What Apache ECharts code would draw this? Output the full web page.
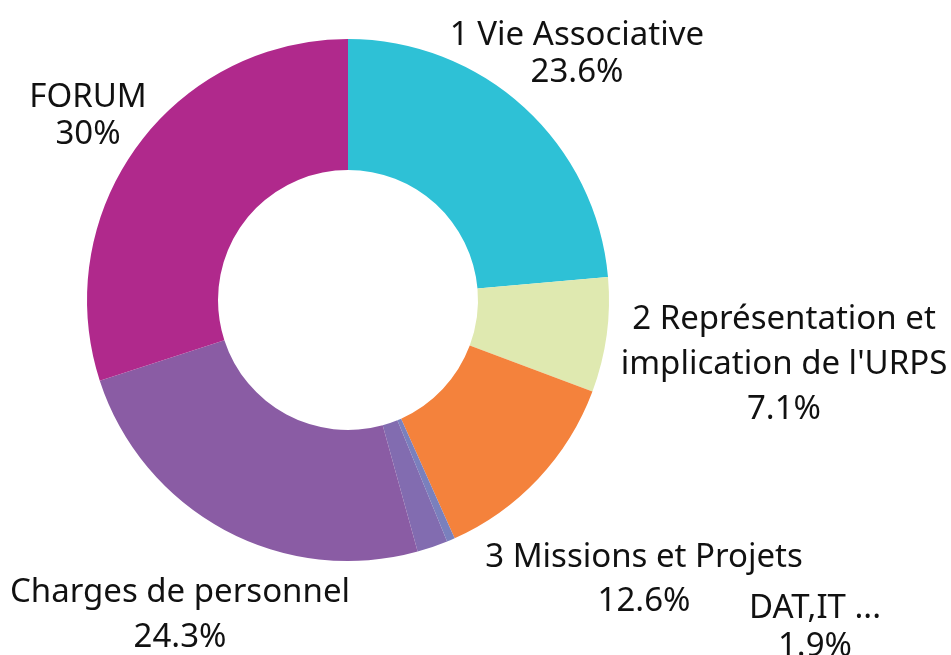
<!DOCTYPE html>
<html lang="fr">
<head>
    <meta charset="UTF-8">
    <title>Budget</title>
    <script src="https://cdn.jsdelivr.net/npm/echarts@6/dist/echarts.min.js"></script>
    <style>
        html, body { margin: 0; padding: 0; background: #fff; }
        #pieChart { width: 951px; height: 655px; }
    </style>
</head>
<body>
    <div id="pieChart"></div>
    <script>
        // donnees (en %)
        var categories = ['1 Vie Associative', "2 Représentation et\nimplication de l'URPS", '3 Missions et Projets', 'Autres', 'DAT,IT ...', 'Charges de personnel', 'FORUM'];
        var values = [23.6, 7.1, 12.6, 0.5, 1.9, 24.3, 30];
        var colors = ['#2ec1d6', '#dfe9b0', '#f4823c', '#7a80bd', '#826cb0', '#8a5ca4', '#b0298c'];
        var showLabel = [true, true, true, false, true, true, true];

        // haut-centre de chaque etiquette + hauteurs de ligne (nom / pourcentage)
        var labelPos = [[577, 18], [784, 297], [644, 540], null, [815, 591], [180, 575], [88, 80]];
        var nameLine = [36, 45, 36, 36, 36, 36, 36];
        var pctLine = [38, 45, 51, 38, 40, 54, 38];

        var data = categories.map(function (name, i) {
            return {
                name: name,
                value: values[i],
                itemStyle: { color: colors[i] },
                label: {
                    show: showLabel[i],
                    rich: {
                        n: { fontSize: 33, lineHeight: nameLine[i], color: '#111', fontFamily: 'Noto Sans' },
                        p: { fontSize: 33, lineHeight: pctLine[i], color: '#111', fontFamily: 'Noto Sans' }
                    }
                }
            };
        });

        var chart = echarts.init(document.getElementById('pieChart'));
        var option = {
            animation: false,
            series: [{
                type: 'pie',
                center: [348, 300],
                radius: [130, 261],
                startAngle: 90,
                clockwise: true,
                percentPrecision: 1,
                avoidLabelOverlap: false,
                label: {
                    position: 'outside',
                    formatter: '{n|{b}}\n{p|{d}%}',
                    color: '#111',
                    fontFamily: 'Noto Sans',
                    fontSize: 33,
                    align: 'center'
                },
                labelLine: { show: false },
                labelLayout: function (params) {
                    var p = labelPos[params.dataIndex];
                    if (!p) return {};
                    return { x: p[0], y: p[1], align: 'center', verticalAlign: 'top' };
                },
                emphasis: { disabled: true },
                data: data
            }]
        };
        chart.setOption(option);
    </script>
</body>
</html>
